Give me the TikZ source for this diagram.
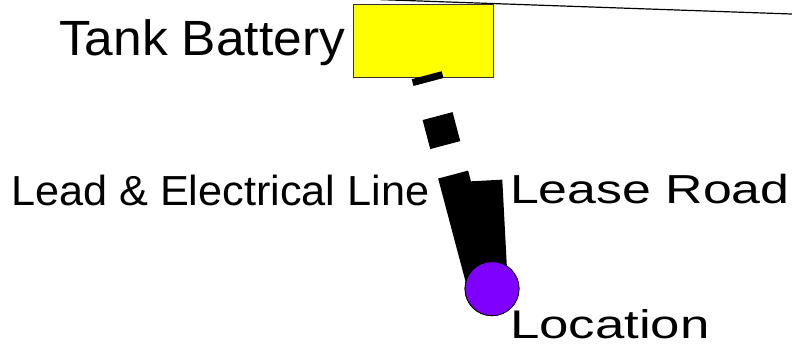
\documentclass[tikz,border=0pt]{standalone}
\usepackage{fontspec}
\setmainfont{Liberation Sans}
\usepackage{graphicx}
\definecolor{tankyellow}{HTML}{FFFF00}
\definecolor{locpurple}{HTML}{7F00FF}
\begin{document}
\begin{tikzpicture}[x=1pt,y=-1pt,
  tankbox/.style={draw=black!80,line width=0.8pt,fill=tankyellow,minimum width=140pt,minimum height=73pt,inner sep=0pt},
  locdot/.style={circle,draw=black,line width=0.8pt,fill=locpurple,minimum size=54pt,inner sep=0pt},
  lbl/.style={anchor=base west,inner sep=0pt,outer sep=0pt},
  leadline/.style={line width=31pt,dash pattern=on 7pt off 35.3pt on 30pt off 30.5pt on 400pt off 10pt},
  roadline/.style={line width=32pt},
  thinline/.style={line width=1.2pt}]
\useasboundingbox (0,0) rectangle (792,349);
% shapes
\node[tankbox] (tank) at (423,40.7) {};
\coordinate (ls) at (426.7,75.2);
\coordinate (le) at (484,290.7);
\coordinate (rs) at (486.3,180.5);
\coordinate (t1) at (380,-0.4);
\coordinate (t2) at (800,14.3);
\node[locdot] (loc) at (492,288.7) {};
\draw[leadline] (ls) -- (le);
\draw[roadline] (rs) -- (loc.center);
\node[locdot] (locTop) at (loc.center) {};
\draw[thinline] (t1) -- (t2);
% labels
\node[lbl] (lt) at (59,55.5) {\fontsize{49.5}{49.5}\selectfont\scalebox{1.04}[1]{Tank Battery}};
\node[lbl] (ll) at (11,205) {\fontsize{42}{42}\selectfont\scalebox{1.03}[1]{Lead \& Electrical Line}};
\node[lbl] (lr) at (510,203.3) {\fontsize{40.5}{40.5}\selectfont\scalebox{1.28}[1]{Lease Road}};
\node[lbl] (lo) at (510,338.8) {\fontsize{40}{40}\selectfont\scalebox{1.32}[1]{Location}};
\end{tikzpicture}
\end{document}
